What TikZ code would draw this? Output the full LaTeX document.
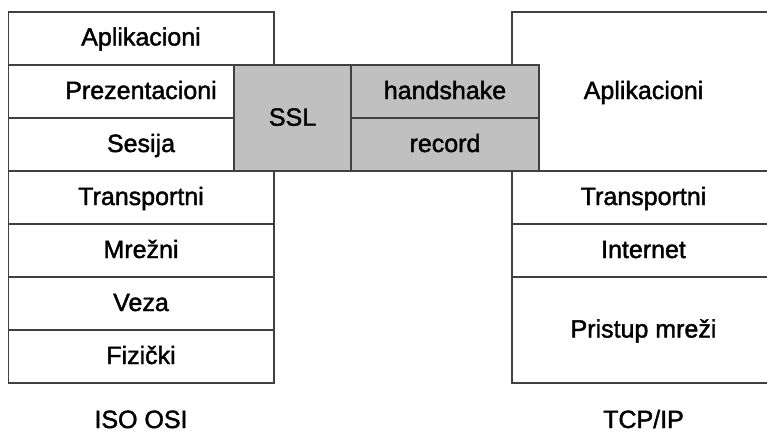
\documentclass[tikz,border=0pt]{standalone}
\usepackage{fontspec}
\setmainfont{Liberation Sans}
\newfontfamily\lblfont{Liberation Sans}[FakeBold=1.6]
\definecolor{edge}{HTML}{404040}
\definecolor{sslgray}{HTML}{C0C0C0}
\begin{document}
\begin{tikzpicture}[x=1pt,y=-1pt,
  layer/.style={draw=edge, line width=1.4pt, fill=white},
  sslbox/.style={draw=edge, line width=1.4pt, fill=sslgray},
  lbl/.style={font=\lblfont\fontsize{25}{30}\selectfont, anchor=base, inner sep=0pt, text=black}]
\useasboundingbox (0,0) rectangle (767,432);

% ISO OSI stack
\draw[layer] (8.5,12)  rectangle (274,65);
\draw[layer] (8.5,65)  rectangle (234,118);
\draw[layer] (8.5,118) rectangle (234,171);
\draw[layer] (8.5,171) rectangle (274,224);
\draw[layer] (8.5,224) rectangle (274,277);
\draw[layer] (8.5,277) rectangle (274,330);
\draw[layer] (8.5,330) rectangle (274,383);

% TCP/IP stack (runs past the right edge)
\begin{scope}
\clip (0,0) rectangle (767,432);
\draw[layer] (512,12)  rectangle (800,171);
\draw[layer] (512,171) rectangle (800,224);
\draw[layer] (512,224) rectangle (800,277);
\draw[layer] (512,277) rectangle (800,383);
\end{scope}

% SSL and its sublayers
\draw[sslbox] (234,65)  rectangle (351,171);
\draw[sslbox] (351,65)  rectangle (539,118);
\draw[sslbox] (351,118) rectangle (539,171);

% ISO OSI labels
\node[lbl] (osiapp)   at (141,45.5)  {Aplikacioni};
\node[lbl] (osipres)  at (141,99)    {Prezentacioni};
\node[lbl] (osises)   at (141,152)   {Sesija};
\node[lbl] (ositrans) at (141,205)   {Transportni};
\node[lbl] (osinet)   at (141,258)   {Mrežni};
\node[lbl] (osilink)  at (141,311)   {Veza};
\node[lbl] (osiphys)  at (141,364)   {Fizički};
\node[lbl] (osititle) at (141,428)   {ISO OSI};

% SSL labels
\node[lbl] (ssl)       at (292.5,125.7) {SSL};
\node[lbl] (handshake) at (445,99)      {handshake};
\node[lbl] (record)    at (445,152)     {record};

% TCP/IP labels
\node[lbl] (tcpapp)   at (643.5,99)    {Aplikacioni};
\node[lbl] (tcptrans) at (643.5,205)   {Transportni};
\node[lbl] (tcpnet)   at (643.5,258)   {Internet};
\node[lbl] (tcpacc)   at (643.5,337.5) {Pristup mreži};
\node[lbl] (tcptitle) at (643.5,428)   {TCP/IP};
\end{tikzpicture}
\end{document}
